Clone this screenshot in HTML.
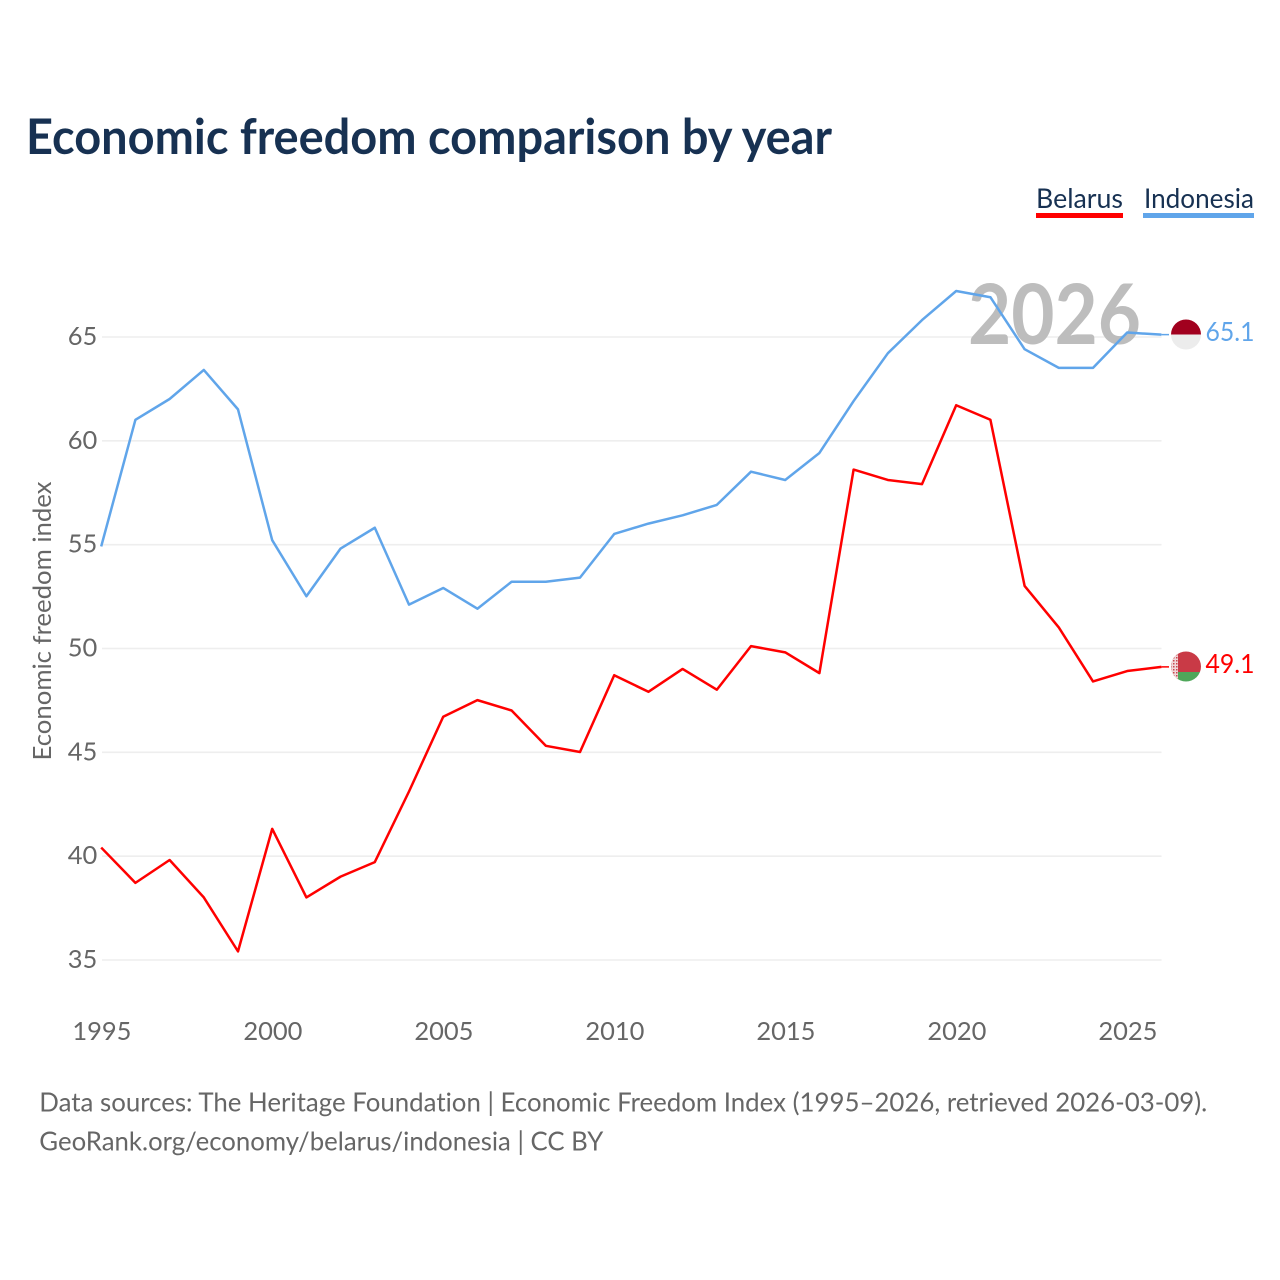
<!DOCTYPE html>
<html lang="en">
<head>
<meta charset="utf-8">
<title>Economic freedom comparison by year</title>
<style>
html,body{margin:0;padding:0;background:#fff;}
body{width:1280px;height:1280px;overflow:hidden;}
svg{display:block;}
text{font-family:"Lato","Carlito","Liberation Sans",sans-serif;font-variant-ligatures:none;}
</style>
</head>
<body>
<svg id="chart" width="1280" height="1280" viewBox="0 0 1280 1280" xmlns="http://www.w3.org/2000/svg">
  <defs>
    <clipPath id="flag-clip-id"><circle cx="1186" cy="334.5" r="15"/></clipPath>
    <clipPath id="flag-clip-by"><circle cx="1186" cy="666.5" r="15"/></clipPath>
    <pattern id="by-ornament" width="3" height="3" patternUnits="userSpaceOnUse">
      <rect width="3" height="3" fill="#f0d8da"/>
      <rect x="0" y="0" width="1.5" height="1.5" fill="#c9474f"/>
    </pattern>
  </defs>
  <g id="grid"></g>
  <g id="y-ticks"></g>
  <g id="x-ticks"></g>
  <text x="26" y="154" font-size="48.5" font-weight="700" fill="#173152" textLength="806" lengthAdjust="spacingAndGlyphs">Economic freedom comparison by year</text>
  <text x="1141" y="344" text-anchor="end" font-size="83" font-weight="700" fill="#bdbdbd" textLength="173" lengthAdjust="spacingAndGlyphs">2026</text>
  <text transform="translate(51,621) rotate(-90)" text-anchor="middle" font-size="25.5" fill="#666666" textLength="279" lengthAdjust="spacingAndGlyphs">Economic freedom index</text>
  <g id="series"></g>

  <g>
    <text x="1036" y="208" font-size="27" fill="#173152" textLength="87" lengthAdjust="spacingAndGlyphs">Belarus</text>
    <rect x="1036" y="213" width="87" height="5" fill="#ff0000"/>
  </g>
  <g>
    <text x="1144" y="208" font-size="27" fill="#173152" textLength="110" lengthAdjust="spacingAndGlyphs">Indonesia</text>
    <rect x="1143" y="213" width="111" height="5" fill="#60a5ea"/>
  </g>

  <g clip-path="url(#flag-clip-id)">
    <rect x="1171" y="319" width="30" height="15.5" fill="#a1001e"/>
    <rect x="1171" y="334.5" width="30" height="15.5" fill="#ececec"/>
  </g>
  <g clip-path="url(#flag-clip-by)">
    <rect x="1171" y="651" width="30" height="21" fill="#c93a46"/>
    <rect x="1171" y="672" width="30" height="10" fill="#4fa75a"/>
    <rect x="1171" y="651" width="7" height="31" fill="url(#by-ornament)"/>
  </g>
  <text x="1205.5" y="341" font-size="26" fill="#60a5ea" textLength="49" lengthAdjust="spacingAndGlyphs">65.1</text>
  <text x="1205.5" y="673" font-size="26" fill="#ff0000" textLength="49" lengthAdjust="spacingAndGlyphs">49.1</text>

  <text x="39.3" y="1111.5" font-size="26" fill="#666666" textLength="1168" lengthAdjust="spacingAndGlyphs">Data sources: The Heritage Foundation | Economic Freedom Index (1995–2026, retrieved 2026-03-09).</text>
  <text x="39.3" y="1150.5" font-size="26" fill="#666666" textLength="564" lengthAdjust="spacingAndGlyphs">GeoRank.org/economy/belarus/indonesia | CC BY</text>
</svg>
<script>
const years = [1995,1996,1997,1998,1999,2000,2001,2002,2003,2004,2005,2006,2007,2008,2009,2010,2011,2012,2013,2014,2015,2016,2017,2018,2019,2020,2021,2022,2023,2024,2025,2026];
const belarusValues = [40.4,38.7,39.8,38.0,35.4,41.3,38.0,39.0,39.7,43.1,46.7,47.5,47.0,45.3,45.0,48.7,47.9,49.0,48.0,50.1,49.8,48.8,58.6,58.1,57.9,61.7,61.0,53.0,51.0,48.4,48.9,49.1];
const indonesiaValues = [54.9,61.0,62.0,63.4,61.5,55.2,52.5,54.8,55.8,52.1,52.9,51.9,53.2,53.2,53.4,55.5,56.0,56.4,56.9,58.5,58.1,59.4,61.9,64.2,65.8,67.2,66.9,64.4,63.5,63.5,65.2,65.1];
const yTickValues = [35,40,45,50,55,60,65];
const xTickValues = [1995,2000,2005,2010,2015,2020,2025];

const NS = 'http://www.w3.org/2000/svg';
function xScale(year){ return 101.2 + (year - 1995) * (1127.2 - 101.2) / 30; }
function yScale(value){ return 959.7 + (value - 35) * (336.7 - 959.7) / 30; }

const gridGroup = document.getElementById('grid');
const yGroup = document.getElementById('y-ticks');
const xGroup = document.getElementById('x-ticks');
const seriesGroup = document.getElementById('series');

yTickValues.forEach(function(v){
  const gl = document.createElementNS(NS,'line');
  gl.setAttribute('x1', 102);
  gl.setAttribute('x2', 1161.5);
  gl.setAttribute('y1', yScale(v) + 0.3);
  gl.setAttribute('y2', yScale(v) + 0.3);
  gl.setAttribute('stroke', '#eeeeee');
  gl.setAttribute('stroke-width', '1.6');
  
  
  gridGroup.appendChild(gl);

  const t = document.createElementNS(NS,'text');
  t.setAttribute('x', 97.3);
  t.setAttribute('y', yScale(v) + 8.3);
  t.setAttribute('text-anchor', 'end');
  t.setAttribute('font-size', '25.5');
  t.setAttribute('fill', '#666666');
  t.textContent = v;
  
  
  yGroup.appendChild(t);
});

xTickValues.forEach(function(y){
  const t = document.createElementNS(NS,'text');
  t.setAttribute('x', xScale(y) + 0.7);
  t.setAttribute('y', 1040);
  t.setAttribute('text-anchor', 'middle');
  t.setAttribute('font-size', '25.5');
  t.setAttribute('fill', '#666666');
  t.textContent = y;
  
  
  xGroup.appendChild(t);
});

function pointsFor(values){
  return values.map(function(v,i){ return xScale(years[i]).toFixed(2) + ',' + yScale(v).toFixed(2); }).join(' ');
}

const indonesiaLine = document.createElementNS(NS,'polyline');
indonesiaLine.setAttribute('points', pointsFor(indonesiaValues));
indonesiaLine.setAttribute('fill', 'none');
indonesiaLine.setAttribute('stroke', '#60a5ea');
indonesiaLine.setAttribute('stroke-width', '2.5');
indonesiaLine.setAttribute('stroke-linejoin', 'round');


seriesGroup.appendChild(indonesiaLine);

const belarusLine = document.createElementNS(NS,'polyline');
belarusLine.setAttribute('points', pointsFor(belarusValues));
belarusLine.setAttribute('fill', 'none');
belarusLine.setAttribute('stroke', '#ff0000');
belarusLine.setAttribute('stroke-width', '2.5');
belarusLine.setAttribute('stroke-linejoin', 'round');


seriesGroup.appendChild(belarusLine);

const lastIndex = years.length - 1;

const indonesiaConnector = document.createElementNS(NS,'line');
indonesiaConnector.setAttribute('x1', xScale(years[lastIndex]));
indonesiaConnector.setAttribute('x2', 1169);
indonesiaConnector.setAttribute('y1', yScale(indonesiaValues[lastIndex]));
indonesiaConnector.setAttribute('y2', yScale(indonesiaValues[lastIndex]));
indonesiaConnector.setAttribute('stroke', '#60a5ea');
indonesiaConnector.setAttribute('stroke-width', '1.5');


seriesGroup.appendChild(indonesiaConnector);

const belarusConnector = document.createElementNS(NS,'line');
belarusConnector.setAttribute('x1', xScale(years[lastIndex]));
belarusConnector.setAttribute('x2', 1169);
belarusConnector.setAttribute('y1', yScale(belarusValues[lastIndex]));
belarusConnector.setAttribute('y2', yScale(belarusValues[lastIndex]));
belarusConnector.setAttribute('stroke', '#ff0000');
belarusConnector.setAttribute('stroke-width', '1.5');


seriesGroup.appendChild(belarusConnector);
</script>
</body>
</html>
